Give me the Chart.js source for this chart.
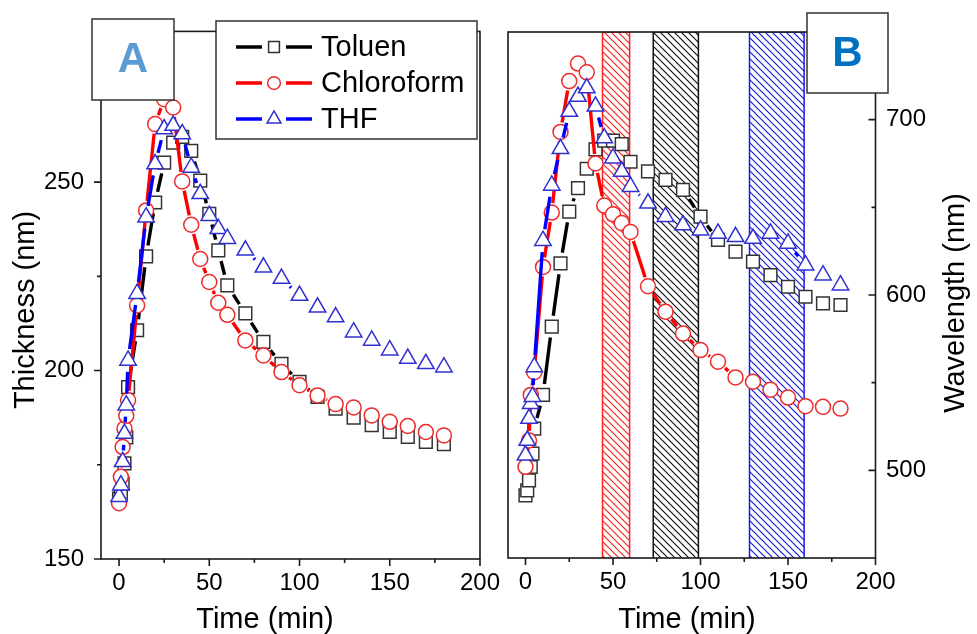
<!DOCTYPE html>
<html><head><meta charset="utf-8">
<script src="https://cdn.jsdelivr.net/npm/chart.js@4.4.1/dist/chart.umd.min.js"></script>
<style>
html,body{margin:0;padding:0;background:#fff;width:977px;height:634px;overflow:hidden;}
#wrap{position:relative;width:977px;height:634px;background:#fff;}
canvas{position:absolute;top:0;}
#cA{left:0;z-index:1}
#cB{left:495px;z-index:2}
</style></head><body>
<div id="wrap"><canvas id="cA" width="510" height="634"></canvas><canvas id="cB" width="482" height="634"></canvas></div>
<script>
// ---------------- DATA ----------------
const time = [0,1,2,3,4,5,10,15,20,25,30,35,40,45,50,55,60,70,80,90,100,110,120,130,140,150,160,170,180];
const seriesNames = ['Toluen','Chloroform','THF'];

// Panel A: Thickness (nm)
const thickToluen     = [166,167.5,170,175.4,182.3,195.6,210.7,230.3,244.6,255.2,260.5,262,258.3,250.4,241.6,231.9,222.6,215.2,207.6,201.8,197,193,189.9,187.5,185.5,183.7,182.4,181.1,180.5];
const thickChloroform = [164.8,171.8,179.7,184.6,188,192.1,217.3,242.5,265.4,272,269.8,250.2,238.7,229.6,223.5,218,214.8,208,204,199.6,196.1,193.4,191.1,190.2,188.1,186.4,185.3,183.7,182.8];
const thickTHF        = [166.5,169.6,175.8,183.3,190.8,202.7,220.4,240.7,254.8,264.1,265,262.8,253.9,246.9,241.1,237.6,235,231.9,227.4,224.4,219.9,216.8,214.2,210.2,208,205.4,203.2,201.8,200.9];

// Panel B: Wavelength (nm)
const waveToluen     = [485.7,488.6,494.3,501.9,509.5,523.8,543,582,618,647.6,661,672,683,688,688,686,676,670.5,665.7,660,644.7,631.4,624.7,619,611.4,604.7,599,595.2,594.3];
const waveChloroform = [502,null,517,543,null,556,616,647,693,722,732,727,675,651,646,641,636,605,590.5,578,568.6,562,553,550.5,546,541.5,536.6,536.2,535.2];
const waveTHF        = [508.6,517,529.5,538,542,559,631,662.5,683.4,704.6,713.2,718,707.6,689.5,678,670.4,661.8,652.3,644.7,639.9,637,635.1,633.2,632.2,635.1,629.4,617,611.3,605.6];

// hatched time windows in panel B (min)
const bandStart = [44,73,128];
const bandEnd   = [59.5,98.8,159.2];

// axes
const timeTicks = [0,50,100,150,200];
const timeMinor = [25,75,125,175];
const thickTicks = [150,200,250];
const thickMinor = [175,225,275];
const waveTicks = [500,600,700];
const waveMinor = [550,650];
const timeRange = [-10,200];
const thickRange = [150,290];
const waveRange = [450,750];

// ---------------- STYLE ----------------
const FONT = '"Liberation Sans", Arial, Helvetica, sans-serif';
const lineColors = ['#000000','#ff0000','#0000ff'];
const markerColors = ['#333333','#ee2a2a','#3030d0'];
const markerStyles = ['rect','circle','triangle'];
const markerRadius = [9,7.5,9.5];
const bandColors = ['#ff2020','#111111','#1a1ae0'];

// Origin-style "line + symbol": the connecting line stops short of each symbol
function gapDash(gap){
  return c => {
    const L = Math.hypot(c.p1.x - c.p0.x, c.p1.y - c.p0.y);
    return L > 2*gap + 1 ? [0.001, gap, L - 2*gap, 100000] : [0.001, 100000];
  };
}

function series(i, vals){
  const gap = markerRadius[i] + 2;
  return {
    label: seriesNames[i],
    data: time.map((t,k)=>({x:t,y:vals[k]})),
    borderColor: lineColors[i], borderWidth: 3.4,
    pointStyle: markerStyles[i], pointRadius: markerRadius[i],
    pointBorderColor: markerColors[i], pointBackgroundColor: '#ffffff',
    pointBorderWidth: 1.5, spanGaps: true, tension: 0, fill: false,
    borderCapStyle: 'butt',
    segment: { borderDash: gapDash(gap), borderDashOffset: c => c.p0DataIndex * 1e-4 },
    order: 3 - i
  };
}

function hatch(color){
  const n = 7;
  const c = document.createElement('canvas'); c.width = n; c.height = n;
  const g = c.getContext('2d');
  g.strokeStyle = color; g.lineWidth = 1.2;
  g.beginPath();
  g.moveTo(-1,-1); g.lineTo(n+1,n+1);
  g.moveTo(-1,n-1); g.lineTo(1,n+1);
  g.moveTo(n-1,-1); g.lineTo(n+1,1);
  g.stroke();
  return g.createPattern(c,'repeat');
}

function markerPath(ctx, style, r, x, y){
  ctx.beginPath();
  if(style==='rect'){ const s = r*Math.SQRT1_2; ctx.rect(x-s,y-s,2*s,2*s); }
  else if(style==='circle'){ ctx.arc(x,y,r,0,Math.PI*2); }
  else { ctx.moveTo(x, y-r); ctx.lineTo(x+r*Math.cos(Math.PI/6), y+r*0.5); ctx.lineTo(x-r*Math.cos(Math.PI/6), y+r*0.5); ctx.closePath(); }
}

function drawFrameAndTicks(chart, yMajor, yMinor, yInsideRight){
  const {ctx, chartArea:a, scales} = chart;
  ctx.save();
  ctx.strokeStyle = '#1a1a1a'; ctx.lineWidth = 1.6;
  ctx.strokeRect(a.left, a.top, a.right-a.left, a.bottom-a.top);
  ctx.beginPath();
  timeTicks.forEach(v=>{ const p = scales.x.getPixelForValue(v); ctx.moveTo(p,a.bottom); ctx.lineTo(p,a.bottom+7); });
  timeMinor.forEach(v=>{ const p = scales.x.getPixelForValue(v); ctx.moveTo(p,a.bottom); ctx.lineTo(p,a.bottom+4); });
  yMajor.forEach(v=>{ const p = scales.y.getPixelForValue(v);
    if(yInsideRight){ ctx.moveTo(a.right-7,p); ctx.lineTo(a.right,p); } else { ctx.moveTo(a.left-7,p); ctx.lineTo(a.left,p); } });
  yMinor.forEach(v=>{ const p = scales.y.getPixelForValue(v);
    if(yInsideRight){ ctx.moveTo(a.right-4,p); ctx.lineTo(a.right,p); } else { ctx.moveTo(a.left-4,p); ctx.lineTo(a.left,p); } });
  ctx.stroke();
  ctx.restore();
}

function drawText(ctx, txt, x, y, font, color, rot){
  ctx.save(); ctx.translate(x,y); if(rot) ctx.rotate(rot);
  ctx.font = font; ctx.fillStyle = color; ctx.textAlign='center'; ctx.textBaseline='middle';
  ctx.fillText(txt,0,0); ctx.restore();
}

function labelBox(ctx, x, y, w, h, letter, color){
  ctx.save();
  ctx.fillStyle = '#fff'; ctx.fillRect(x,y,w,h);
  ctx.strokeStyle = '#333'; ctx.lineWidth = 1.5; ctx.strokeRect(x,y,w,h);
  ctx.restore();
  drawText(ctx, letter, x+w/2, y+h/2+1, 'bold 42px '+FONT, color, 0);
}

const panelA = {
  id:'panelA',
  afterDraw(chart){
    const ctx = chart.ctx;
    drawFrameAndTicks(chart, thickTicks, thickMinor, false);
    drawText(ctx, 'Time (min)', 265, 620, '29px '+FONT, '#000', 0);
    drawText(ctx, 'Thickness (nm)', 26, 310, '29px '+FONT, '#000', -Math.PI/2);
    // legend
    ctx.save();
    ctx.fillStyle='#fff'; ctx.fillRect(216,21,261,118);
    ctx.strokeStyle='#333'; ctx.lineWidth=1.5; ctx.strokeRect(216,21,261,118);
    const rows = [47,83,119];
    chart.data.datasets.forEach((ds,i)=>{
      const y = rows[i];
      ctx.strokeStyle = ds.borderColor; ctx.lineWidth = 3.4; ctx.setLineDash([]);
      ctx.beginPath(); ctx.moveTo(236,y); ctx.lineTo(262,y); ctx.moveTo(286,y); ctx.lineTo(312,y); ctx.stroke();
      markerPath(ctx, ds.pointStyle, ds.pointRadius*0.85, 274, y);
      ctx.fillStyle='#fff'; ctx.fill(); ctx.strokeStyle = ds.pointBorderColor; ctx.lineWidth=1.5; ctx.stroke();
      ctx.fillStyle='#000'; ctx.font='29px '+FONT; ctx.textAlign='left'; ctx.textBaseline='middle';
      ctx.fillText(ds.label, 321, y+1);
    });
    ctx.restore();
    labelBox(ctx, 92, 19, 82, 81, 'A', '#5b9bd5');
  }
};

const panelB = {
  id:'panelB',
  afterDraw(chart){
    const ctx = chart.ctx;
    drawFrameAndTicks(chart, waveTicks, waveMinor, true);
    drawText(ctx, 'Time (min)', 192, 620, '29px '+FONT, '#000', 0);
    drawText(ctx, 'Wavelength (nm)', 461, 303, '29px '+FONT, '#000', -Math.PI/2);
    labelBox(ctx, 312, 13, 81, 80, 'B', '#0070c0');
  }
};

function xScale(h){
  return {type:'linear', min:timeRange[0], max:timeRange[1],
    afterBuildTicks: s=>{ s.ticks = timeTicks.map(v=>({value:v})); },
    afterFit: s=>{ s.height = h; },
    grid:{display:false, drawTicks:false}, border:{display:false},
    ticks:{font:{family:FONT,size:24}, color:'#000', padding:10, maxRotation:0, autoSkip:false}};
}

Chart.defaults.font.family = FONT;

new Chart(document.getElementById('cA'), {
  type:'line',
  data:{datasets:[series(0,thickToluen), series(1,thickChloroform), series(2,thickTHF)]},
  options:{
    responsive:false, animation:false, devicePixelRatio:1, events:[],
    layout:{padding:{left:0,right:23,top:31,bottom:0}},
    plugins:{legend:{display:false}, tooltip:{enabled:false}},
    scales:{
      x: xScale(75),
      y: {type:'linear', min:thickRange[0], max:thickRange[1],
        afterBuildTicks: s=>{ s.ticks = thickTicks.map(v=>({value:v})); },
        afterFit: s=>{ s.width = 101; },
        grid:{display:false, drawTicks:false}, border:{display:false},
        ticks:{font:{family:FONT,size:24}, color:'#000', padding:17}}
    }
  },
  plugins:[panelA]
});

const bandSets = bandStart.map((s,i)=>({
  label:'band'+i,
  data:[{x:s,y:waveRange[0]},{x:s,y:waveRange[1]},{x:bandEnd[i],y:waveRange[1]},{x:bandEnd[i],y:waveRange[0]}],
  borderColor: bandColors[i], borderWidth:1.5, backgroundColor: hatch(bandColors[i]),
  fill:'start', pointRadius:0, tension:0, order:10
}));

new Chart(document.getElementById('cB'), {
  type:'line',
  data:{datasets:[series(0,waveToluen), series(1,waveChloroform), series(2,waveTHF), ...bandSets]},
  options:{
    responsive:false, animation:false, devicePixelRatio:1, events:[],
    layout:{padding:{left:13,right:0,top:32,bottom:0}},
    plugins:{legend:{display:false}, tooltip:{enabled:false}},
    scales:{
      x: xScale(76),
      y: {type:'linear', position:'right', min:waveRange[0], max:waveRange[1],
        afterBuildTicks: s=>{ s.ticks = waveTicks.map(v=>({value:v})); },
        afterFit: s=>{ s.width = 101.5; },
        grid:{display:false, drawTicks:false}, border:{display:false},
        ticks:{font:{family:FONT,size:24}, color:'#000', padding:10.5}}
    }
  },
  plugins:[panelB]
});
</script>
</body></html>
